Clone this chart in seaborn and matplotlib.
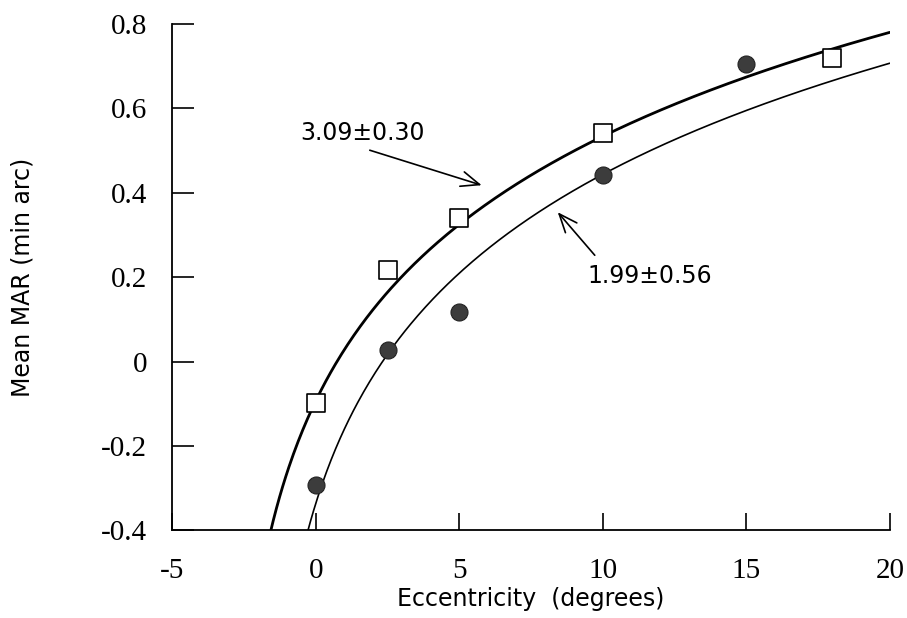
import numpy as np
import pandas as pd
import matplotlib
matplotlib.use("Agg")
import matplotlib.pyplot as plt
import seaborn as sns

# ---- data ----
ecc_squares = [0, 2.5, 5, 10, 18]
mar_squares = [-0.098, 0.218, 0.340, 0.543, 0.720]
ecc_circles = [0, 2.5, 5, 10, 15]
mar_circles = [-0.293, 0.028, 0.118, 0.443, 0.706]

# fitted curves: MAR = log10(E + E2) + offset  (E2 values printed on the chart)
e2_upper, offset_upper = 3.09, -0.583
e2_lower, offset_lower = 1.99, -0.635
label_upper = "3.09\u00b10.30"
label_lower = "1.99\u00b10.56"

x_ticks = [-5, 0, 5, 10, 15, 20]
x_ticklabels = ["-5", "0", "5", "10", "15", "20"]
y_ticks = [-0.4, -0.2, 0, 0.2, 0.4, 0.6, 0.8]
y_ticklabels = ["-0.4", "-0.2", "0", "0.2", "0.4", "0.6", "0.8"]

sns.set_theme(style="ticks")
plt.rcParams["font.family"] = ["DejaVu Sans"]

fig = plt.figure(figsize=(9.07, 6.18), dpi=100)
ax = fig.add_axes([0.190, 0.142, 0.791, 0.819])

e_up = np.linspace(-e2_upper + 1.5, 20, 400)
e_lo = np.linspace(-e2_lower + 1.5, 20, 400)
curve_up = pd.DataFrame({"E": e_up, "MAR": np.log10(e_up + e2_upper) + offset_upper})
curve_lo = pd.DataFrame({"E": e_lo, "MAR": np.log10(e_lo + e2_lower) + offset_lower})
sns.lineplot(data=curve_up, x="E", y="MAR", ax=ax, color="black", linewidth=2.0)
sns.lineplot(data=curve_lo, x="E", y="MAR", ax=ax, color="black", linewidth=1.2)

sq = pd.DataFrame({"E": ecc_squares, "MAR": mar_squares})
ci = pd.DataFrame({"E": ecc_circles, "MAR": mar_circles})
sns.scatterplot(data=sq, x="E", y="MAR", ax=ax, marker="s", s=180,
                facecolor="white", edgecolor="black", linewidth=1.2, zorder=3)
sns.scatterplot(data=ci, x="E", y="MAR", ax=ax, marker="o", s=150,
                color="#3c3c3c", edgecolor="#222222", linewidth=0.8, zorder=3)

ax.set_xlim(-5, 20)
ax.set_ylim(-0.4, 0.8)
ax.set_xticks(x_ticks)
ax.set_xticklabels(x_ticklabels)
ax.set_yticks(y_ticks)
ax.set_yticklabels(y_ticklabels)
ax.tick_params(axis="both", direction="in", width=1.2, color="black",
               labelsize=21, labelcolor="black")
ax.tick_params(axis="x", length=12, pad=20)
ax.tick_params(axis="y", length=16, pad=18)
for lab in ax.get_xticklabels() + ax.get_yticklabels():
    lab.set_fontfamily(["Liberation Serif", "DejaVu Serif"])

sns.despine(ax=ax)
for s in ["left", "bottom"]:
    ax.spines[s].set_linewidth(1.3)
    ax.spines[s].set_color("black")

ax.set_xlabel("Eccentricity  (degrees)", fontsize=17, color="black")
ax.set_ylabel("Mean MAR (min arc)", fontsize=17, color="black")
ax.xaxis.set_label_coords(0.5, -0.112)
ax.yaxis.set_label_coords(-0.192, 0.5)

ax.text(-0.557, 0.542, label_upper, fontsize=17, ha="left", va="center", color="black")
ax.text(9.48, 0.202, label_lower, fontsize=17, ha="left", va="center", color="black")
arrow_kw = dict(arrowstyle="->,head_length=1.1,head_width=0.45",
                color="black", lw=1.2, shrinkA=0, shrinkB=0)
ax.annotate("", xy=(5.78, 0.418), xytext=(1.88, 0.501), arrowprops=arrow_kw)
ax.annotate("", xy=(8.43, 0.354), xytext=(9.72, 0.252), arrowprops=arrow_kw)

fig.savefig("out.png", dpi=100)
